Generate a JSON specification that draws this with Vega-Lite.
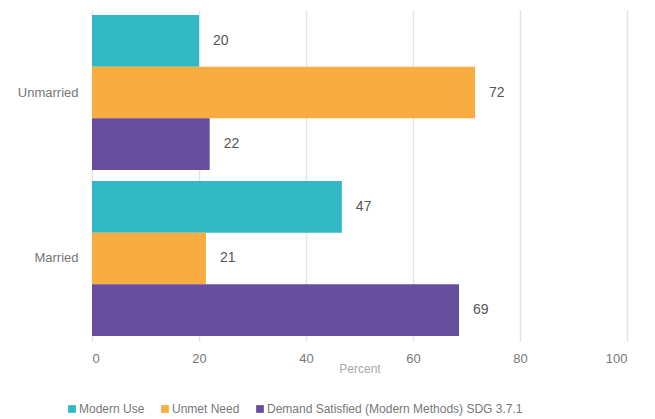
{
  "$schema": "https://vega.github.io/schema/vega-lite/v6.json",
  "autosize": {"type": "none"},
  "padding": {"left": 92, "top": 10, "right": 28, "bottom": 78},
  "width": 535,
  "height": 331,
  "background": "white",
  "config": {
    "font": "Liberation Sans",
    "view": {"stroke": null}
  },
  "data": {
    "values": [
      {"group": "Unmarried", "series": "Modern Use", "value": 20},
      {"group": "Unmarried", "series": "Unmet Need", "value": 71.6},
      {"group": "Unmarried", "series": "Demand Satisfied (Modern Methods) SDG 3.7.1", "value": 22},
      {"group": "Married", "series": "Modern Use", "value": 46.7},
      {"group": "Married", "series": "Unmet Need", "value": 21.3},
      {"group": "Married", "series": "Demand Satisfied (Modern Methods) SDG 3.7.1", "value": 68.6}
    ]
  },
  "encoding": {
    "y": {
      "field": "group", "type": "nominal", "sort": ["Unmarried", "Married"],
      "scale": {"paddingInner": 0.066, "paddingOuter": 0.03},
      "axis": {"title": null, "ticks": false, "domain": false, "labelPadding": 14, "labelFontSize": 13, "labelColor": "#777777"}
    },
    "yOffset": {
      "field": "series", "type": "nominal",
      "sort": ["Modern Use", "Unmet Need", "Demand Satisfied (Modern Methods) SDG 3.7.1"],
      "scale": {"paddingInner": 0, "paddingOuter": 0}
    },
    "x": {
      "field": "value", "type": "quantitative",
      "scale": {"domain": [0, 100]},
      "axis": {
        "title": "Percent", "titleColor": "#aaaaaa", "titleFontSize": 12, "titleFontWeight": "normal", "titlePadding": -2,
        "values": [0, 20, 40, 60, 80, 100],
        "ticks": false, "domain": false, "labelPadding": 11, "labelFontSize": 13, "labelColor": "#777777",
        "gridColor": "#e3e3e3", "gridWidth": 1.5
      }
    }
  },
  "layer": [
    {
      "mark": {"type": "bar"},
      "encoding": {
        "color": {
          "field": "series", "type": "nominal",
          "sort": ["Modern Use", "Unmet Need", "Demand Satisfied (Modern Methods) SDG 3.7.1"],
          "scale": {"domain": ["Modern Use", "Unmet Need", "Demand Satisfied (Modern Methods) SDG 3.7.1"], "range": ["#31b8c5", "#f9ad41", "#674f9d"]},
          "legend": {
            "title": null, "orient": "none", "direction": "horizontal", "legendX": -26, "legendY": 393,
            "symbolType": "square", "symbolSize": 60, "symbolStrokeWidth": 0, "labelFontSize": 12, "labelColor": "#777777",
            "columnPadding": 14, "labelOffset": 1, "labelLimit": 400
          }
        }
      }
    },
    {
      "mark": {"type": "text", "align": "left", "dx": 14, "fontSize": 14, "color": "#555555"},
      "encoding": {
        "text": {"field": "value", "type": "quantitative", "format": ".0f"}
      }
    }
  ]
}
